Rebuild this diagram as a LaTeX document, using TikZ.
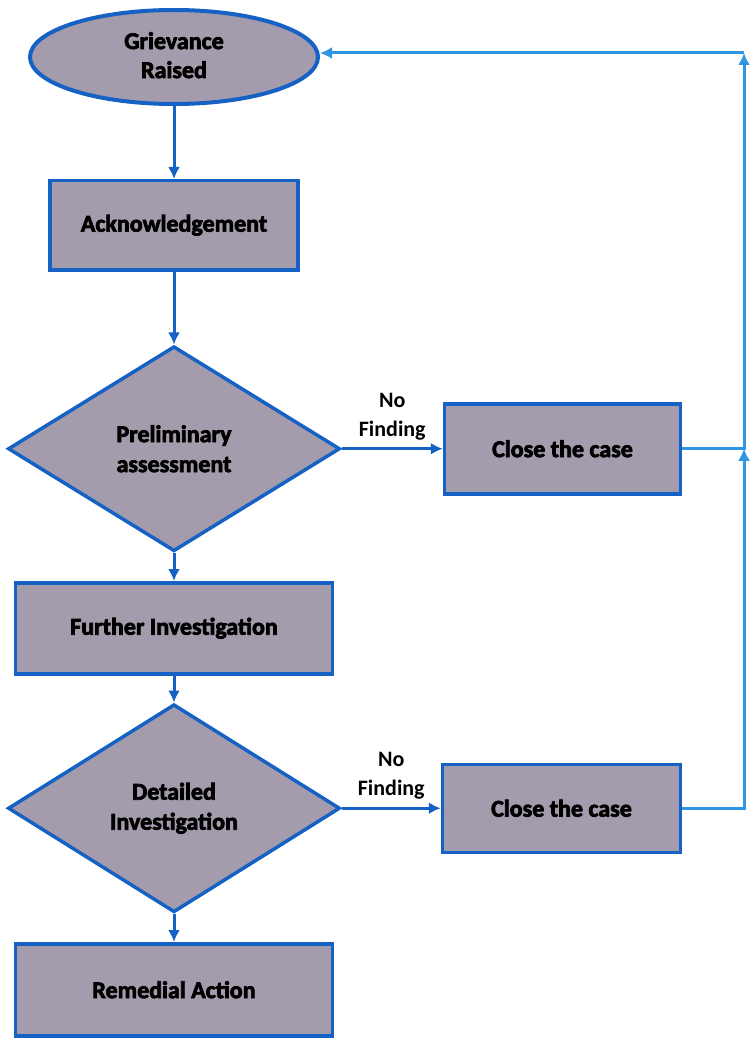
\documentclass[tikz,border=0pt]{standalone}
\usepackage{fontspec}
\setmainfont{Carlito}[BoldFeatures={FakeBold=3}]
\newfontfamily\labelfont{Carlito}
\usepackage{tikz}
\usetikzlibrary{arrows.meta, positioning, shapes.geometric}

\definecolor{boxblue}{RGB}{22,98,196}
\definecolor{loopblue}{RGB}{46,150,226}
\definecolor{boxgrey}{RGB}{164,156,172}

\begin{document}
\begin{tikzpicture}
\tikzstyle{stepbox}=[rectangle,draw=boxblue,fill=boxgrey,line width=3.5pt,inner sep=2pt,font=\fontsize{24}{29}\selectfont\bfseries,align=center]
\tikzstyle{decision}=[diamond,draw=boxblue,fill=boxgrey,line width=3.5pt,inner sep=0pt,minimum width=332pt,minimum height=205pt,font=\fontsize{24}{30}\selectfont\bfseries,align=center]
\tikzstyle{flow}=[draw=boxblue,line width=3pt,-{Latex[length=12pt,width=12pt]}]
\tikzstyle{loopline}=[draw=loopblue,line width=3pt,-{Latex[length=12pt,width=12pt]}]
\tikzstyle{nofind}=[font=\labelfont\fontsize{22}{29}\selectfont\bfseries,align=center,above=4pt]
    \useasboundingbox (0,0) rectangle (753pt,-1043pt);

    \node (raised) [ellipse, draw=boxblue, fill=boxgrey, line width=4pt, minimum width=288pt, minimum height=94pt, inner sep=0pt,
        font=\fontsize{24}{29}\selectfont\bfseries, align=center] at (174pt,-57pt) {Grievance\\Raised\vphantom{p}};
    \node (ack) [stepbox, minimum width=248pt, minimum height=89pt, below=73pt of raised] {Acknowledgement};
    \node (prelim) [decision, below=73pt of ack] {Preliminary\\assessment};
    \node (close1) [stepbox, minimum width=236pt, minimum height=90pt, right=101pt of prelim] {Close the case};
    \node (further) [stepbox, minimum width=317pt, minimum height=91pt, below=28pt of prelim] {Further Investigation};
    \node (detailed) [decision, minimum height=208pt, below=27pt of further] {Detailed\\Investigation};
    \node (close2) [stepbox, minimum width=238pt, minimum height=88pt, right=99pt of detailed] {Close the case};
    \node (remedial) [stepbox, minimum width=317pt, minimum height=92pt, below=28pt of detailed] {Remedial Action};
    \path (raised.east) ++(424pt,4pt) coordinate (corner);

    \draw[flow] (raised) -- (ack);
    \draw[flow] (ack) -- (prelim);
    \draw[flow] (prelim) -- node [nofind] {No\\Finding} (close1);
    \draw[flow] (prelim) -- (further);
    \draw[flow] (further) -- (detailed);
    \draw[flow] (detailed) -- node [nofind] {No\\Finding} (close2);
    \draw[flow] (detailed) -- (remedial);
    \draw[loopline] (close2.east) -- (close2.east -| corner) -- (close1.east -| corner);
    \draw[loopline] (close1.east) -- (close1.east -| corner) -- (corner);
    \draw[loopline] (corner) -- (raised.east |- corner);
\end{tikzpicture}
\end{document}
